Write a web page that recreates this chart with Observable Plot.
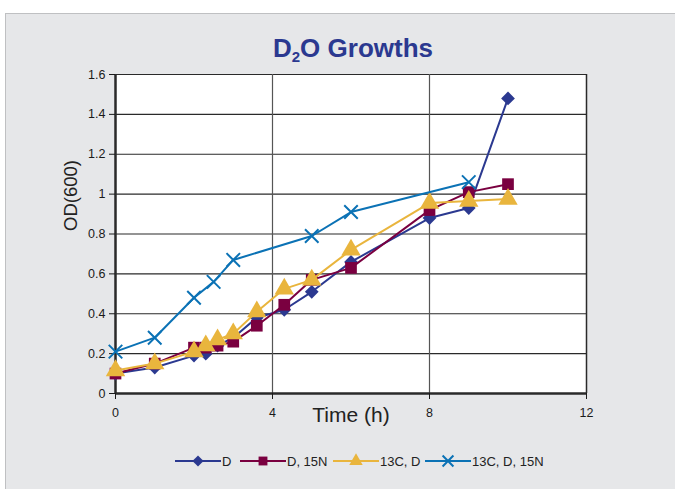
<!DOCTYPE html>
<html>
<head>
<meta charset="utf-8">
<script src="https://cdn.jsdelivr.net/npm/d3@7"></script>
<script src="https://cdn.jsdelivr.net/npm/@observablehq/plot@0.6"></script>
<style>
  html, body { margin: 0; padding: 0; background: #ffffff; }
  body { width: 675px; height: 489px; position: relative; overflow: hidden; font-family: "Liberation Sans", Arial, sans-serif; }
  #panel { position: absolute; left: 5px; top: 13px; width: 680px; height: 490px; background: #e6e7e9; border-left: 1px solid #bfc0c2; border-top: 1px solid #bfc0c2; box-sizing: border-box; }
  #title { position: absolute; left: 0; width: 706px; top: 33px; text-align: center; font-family: "Liberation Sans Narrow", "Liberation Sans", sans-serif; font-weight: bold; font-size: 26px; color: #2b3990; }
  #title sub { font-size: 15px; vertical-align: -5px; line-height: 0; }
  #chart { position: absolute; left: 0; top: 0; }
  #legend { position: absolute; left: 0; top: 450px; width: 675px; }
</style>
</head>
<body>
<div id="panel"></div>
<div id="title">D<sub>2</sub>O Growths</div>
<div id="chart"></div>
<div id="legend"></div>
<script>
// ---- data ----
const timeA = [0, 1, 2, 2.3, 2.6, 3, 3.6, 4.3, 5, 6, 8, 9, 10];
const odD = [0.10, 0.13, 0.19, 0.20, 0.24, 0.28, 0.38, 0.42, 0.51, 0.66, 0.88, 0.93, 1.48];
const odD15N = [0.10, 0.15, 0.23, 0.23, 0.24, 0.26, 0.34, 0.445, 0.57, 0.63, 0.92, 1.01, 1.05];
const od13CD = [0.115, 0.15, 0.21, 0.24, 0.27, 0.30, 0.41, 0.525, 0.57, 0.72, 0.955, 0.965, 0.975];
const timeB = [0, 1, 2, 2.5, 3, 5, 6, 9];
const od13CD15N = [0.21, 0.28, 0.48, 0.56, 0.67, 0.79, 0.91, 1.06];

const seriesNames = ["D", "D, 15N", "13C, D", "13C, D, 15N"];
const seriesColors = ["#2b3990", "#7a0040", "#e9b53d", "#0b72b5"];
const seriesSymbols = ["diamond2", "square", "triangle", "times"];
const seriesR = [6.2, 6.6, 7.2, 6.2];

const xTicks = [0, 4, 8, 12];
const xTickLabels = ["0", "4", "8", "12"];
const yTicks = [0, 0.2, 0.4, 0.6, 0.8, 1, 1.2, 1.4, 1.6];
const yTickLabels = ["0", "0.2", "0.4", "0.6", "0.8", "1", "1.2", "1.4", "1.6"];

const seriesData = [
  timeA.map((t, i) => ({t, v: odD[i]})),
  timeA.map((t, i) => ({t, v: odD15N[i]})),
  timeA.map((t, i) => ({t, v: od13CD[i]})),
  timeB.map((t, i) => ({t, v: od13CD15N[i]}))
];

const marks = [
  Plot.frame({fill: "white", stroke: "none"}),
  Plot.ruleY(yTicks.slice(1), {stroke: "#2a2a2a", strokeWidth: 1.2}),
  Plot.ruleX([4, 8], {stroke: "#555", strokeWidth: 1.2}),
  Plot.ruleX([12], {stroke: "#2a2a2a", strokeWidth: 1.5}),
  Plot.ruleX([0], {stroke: "#2a2a2a", strokeWidth: 2.5}),
  Plot.ruleY([0], {stroke: "#2a2a2a", strokeWidth: 2.5}),
  Plot.axisX({ticks: xTicks, tickFormat: (d, i) => xTickLabels[i], tickSize: 6, tickPadding: 9, fontSize: 12.5, label: null, color: "#1a1a1a"}),
  Plot.axisY({ticks: yTicks, tickFormat: (d, i) => yTickLabels[i], tickSize: 6, tickPadding: 4, fontSize: 12.5, label: null, color: "#1a1a1a"}),
  Plot.text(["OD(600)"], {frameAnchor: "left", dx: -44, dy: -3, rotate: -90, fontSize: 18.5, fill: "#222", fontFamily: "Liberation Sans, sans-serif"}),
  Plot.text(["Time (h)"], {frameAnchor: "bottom", dy: 28, fontSize: 21, fill: "#222", fontFamily: "Liberation Sans, sans-serif"})
];

seriesData.forEach((data, k) => {
  marks.push(Plot.line(data, {x: "t", y: "v", stroke: seriesColors[k], strokeWidth: 2}));
  if (seriesSymbols[k] === "times") {
    marks.push(Plot.dot(data, {x: "t", y: "v", symbol: "times", r: seriesR[k], stroke: seriesColors[k], strokeWidth: 2}));
  } else {
    marks.push(Plot.dot(data, {x: "t", y: "v", symbol: seriesSymbols[k], r: seriesR[k], fill: seriesColors[k], stroke: "none"}));
  }
});

const chart = Plot.plot({
  width: 675,
  height: 440,
  marginLeft: 115,
  marginRight: 89,
  marginTop: 74,
  marginBottom: 47,
  style: {background: "transparent", fontFamily: "Liberation Sans, Arial, sans-serif", overflow: "visible"},
  x: {domain: [0, 12]},
  y: {domain: [0, 1.6]},
  marks
});
document.getElementById("chart").appendChild(chart);

// ---- legend ----
const legendItems = [
  {x: 175, tx: 222},
  {x: 240, tx: 287},
  {x: 333, tx: 380},
  {x: 425, tx: 472}
];
const lsvg = d3.select("#legend").append("svg").attr("width", 675).attr("height", 30);
const symMap = {diamond2: d3.symbolDiamond2, square: d3.symbolSquare, triangle: d3.symbolTriangle, times: d3.symbolTimes};
seriesNames.forEach((name, k) => {
  const it = legendItems[k];
  const g = lsvg.append("g").attr("transform", `translate(0,11)`);
  g.append("line").attr("x1", it.x).attr("x2", it.x + 46).attr("y1", 0).attr("y2", 0).attr("stroke", seriesColors[k]).attr("stroke-width", 2);
  const p = g.append("path").attr("transform", `translate(${it.x + 23},0)`)
    .attr("d", d3.symbol(symMap[seriesSymbols[k]], Math.PI * 5 * 5)());
  if (seriesSymbols[k] === "times") p.attr("fill", "none").attr("stroke", seriesColors[k]).attr("stroke-width", 2);
  else p.attr("fill", seriesColors[k]);
  g.append("text").attr("x", it.tx).attr("y", 0).attr("dy", "0.36em").attr("font-size", 13).attr("fill", "#222").text(name);
});
</script>
</body>
</html>
